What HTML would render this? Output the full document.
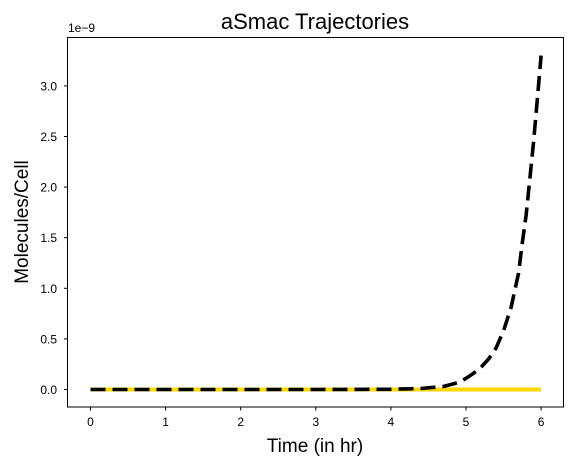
<!DOCTYPE html>
<html><head><meta charset="utf-8"><style>
html,body{margin:0;padding:0;background:#fff;}
svg{display:block;font-family:"Liberation Sans","DejaVu Sans",sans-serif;}
</style></head><body>
<svg id="chart" width="576" height="466" viewBox="0 0 576 466" xmlns="http://www.w3.org/2000/svg">
<rect x="0" y="0" width="576" height="466" fill="#fff"/>
<text x="315" y="29" font-size="22" text-anchor="middle" fill="#000">aSmac Trajectories</text>
<text x="68" y="32" font-size="12" fill="#000">1e−9</text>
<g id="plot"></g>
<rect x="67.5" y="37.5" width="496" height="369.5" fill="none" stroke="#000" stroke-width="1"/>
<text x="315" y="452" font-size="19" text-anchor="middle" fill="#000">Time (in hr)</text>
<text x="0" y="0" font-size="19" text-anchor="middle" fill="#000" transform="translate(28,222) rotate(-90)">Molecules/Cell</text>
</svg>
<script>
const xTicks = [0,1,2,3,4,5,6];
const yTicks = [0,0.5,1.0,1.5,2.0,2.5,3.0];
const yTickLabels = ["0.0","0.5","1.0","1.5","2.0","2.5","3.0"];
const timeHr = [0,1,2,3,4,4.4,4.7,4.9,5.0,5.1,5.2,5.3,5.4,5.5,5.6,5.7,5.75,5.8,5.85,5.9,5.95,6.0];
const asmacModel = [0,0,0,0,0.002,0.01,0.03,0.07,0.11,0.16,0.22,0.3,0.41,0.58,0.81,1.15,1.45,1.72,2.08,2.45,2.87,3.3];
const baselineTime = [0,6];
const baselineValues = [0,0];
const NS="http://www.w3.org/2000/svg";
function xs(t){return 90.5+t*75.1;}
function ys(v){return 389.5-v*101.2;}
const g=document.getElementById('plot');
function mk(tag,attrs){const e=document.createElementNS(NS,tag);for(const k in attrs)e.setAttribute(k,attrs[k]);g.appendChild(e);return e;}
xTicks.forEach(t=>{
  const l=mk('line',{x1:xs(t),x2:xs(t),y1:407,y2:410.5,stroke:'#000','stroke-width':1});
  
  
  const tx=mk('text',{x:xs(t),y:426,'font-size':12,'text-anchor':'middle',fill:'#000'});
  tx.textContent=String(t);
  
  
});
yTicks.forEach((v,i)=>{
  const l=mk('line',{x1:64,x2:67.5,y1:ys(v),y2:ys(v),stroke:'#000','stroke-width':1});
  
  
  const tx=mk('text',{x:57,y:ys(v)+4.5,'font-size':12,'text-anchor':'end',fill:'#000'});
  tx.textContent=yTickLabels[i];
  
  
});
const base=mk('polyline',{points:baselineTime.map((t,i)=>xs(t)+','+ys(baselineValues[i])).join(' '),fill:'none',stroke:'#ffd700','stroke-width':4});


const model=mk('polyline',{points:timeHr.map((t,i)=>xs(t)+','+ys(asmacModel[i])).join(' '),fill:'none',stroke:'#000','stroke-width':3.6,'stroke-dasharray':'15,7','stroke-linejoin':'round'});


</script>
</body></html>
